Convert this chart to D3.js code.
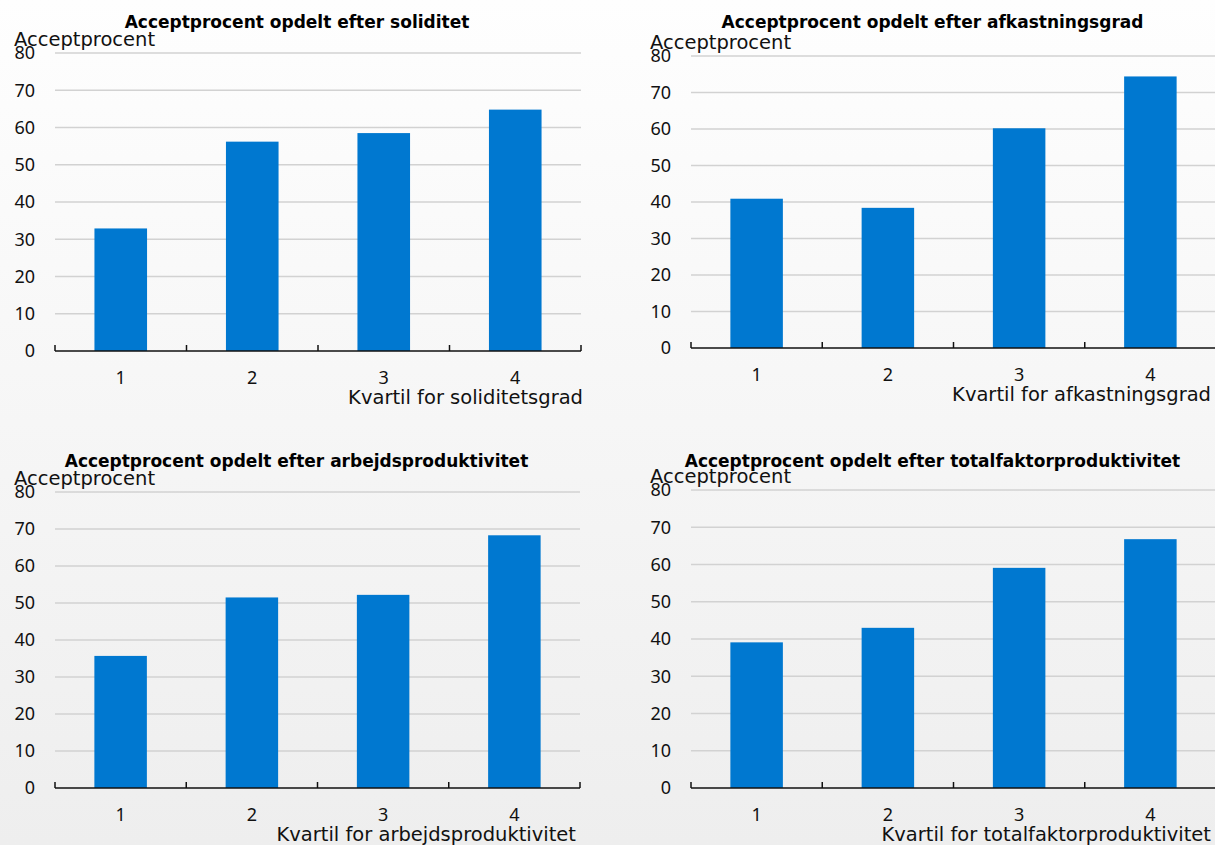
<!DOCTYPE html>
<html>
<head>
<meta charset="utf-8">
<script src="https://cdn.jsdelivr.net/npm/d3@7"></script>
<style>
  html, body { margin: 0; padding: 0; }
  body { width: 1215px; height: 845px; overflow: hidden; }
  svg { display: block; }
</style>
</head>
<body>
<svg id="chart" width="1215" height="845"></svg>
<script>
// Acceptance rate (%) by quartile, four breakdowns
const categories = ["1", "2", "3", "4"];
const yTicks = [0, 10, 20, 30, 40, 50, 60, 70, 80];

const titles = [
  "Acceptprocent opdelt efter soliditet",
  "Acceptprocent opdelt efter afkastningsgrad",
  "Acceptprocent opdelt efter arbejdsproduktivitet",
  "Acceptprocent opdelt efter totalfaktorproduktivitet"
];
const xTitles = [
  "Kvartil for soliditetsgrad",
  "Kvartil for afkastningsgrad",
  "Kvartil for arbejdsproduktivitet",
  "Kvartil for totalfaktorproduktivitet"
];
const yTitle = "Acceptprocent";

const soliditet = [32.9, 56.2, 58.5, 64.8];
const afkastningsgrad = [40.9, 38.4, 60.2, 74.4];
const arbejdsproduktivitet = [35.7, 51.5, 52.2, 68.3];
const totalfaktorproduktivitet = [39.1, 43.0, 59.1, 66.8];
const seriesValues = [soliditet, afkastningsgrad, arbejdsproduktivitet, totalfaktorproduktivitet];

// Panel frames (plot area in page pixels)
const frames = [
  { left: 55,  right: 581,  top: 53,  bottom: 351, titleY: 28,  xTitleRight: 583 },
  { left: 691, right: 1216, top: 56,  bottom: 348, titleY: 28,  xTitleRight: 1211 },
  { left: 55,  right: 580,  top: 492, bottom: 788, titleY: 467, xTitleRight: 576 },
  { left: 691, right: 1216, top: 490, bottom: 788, titleY: 467, xTitleRight: 1211 }
];

const NUM_FONT = "'Noto Sans', 'Open Sans', sans-serif";
const TEXT_FONT = "'DejaVu Sans', 'Noto Sans', sans-serif";
const BAR = "#0078d0";

const svg = d3.select("#chart");

// soft vertical backdrop
const defs = svg.append("defs");
const grad = defs.append("linearGradient")
  .attr("id", "bg").attr("x1", 0).attr("y1", 0).attr("x2", 0).attr("y2", 1);
grad.append("stop").attr("offset", "0%").attr("stop-color", "#fefefe");
grad.append("stop").attr("offset", "100%").attr("stop-color", "#eeeeee");
svg.append("rect").attr("width", 1215).attr("height", 845).attr("fill", "url(#bg)");

frames.forEach((f, i) => {
  const values = seriesValues[i];
  const g = svg.append("g");

  const x = d3.scaleBand()
    .domain(categories)
    .range([f.left, f.right])
    .paddingInner(0.6)
    .paddingOuter(0.3);

  const y = d3.scaleLinear()
    .domain([0, 80])
    .range([f.bottom, f.top]);

  // horizontal gridlines
  g.append("g")
    .selectAll("line")
    .data(yTicks.filter(t => t > 0))
    .join("line")
    .attr("x1", f.left).attr("x2", f.right)
    .attr("y1", d => y(d)).attr("y2", d => y(d))
    .attr("stroke", "#d2d2d2")
    .attr("stroke-width", 1.5);

  // y axis labels
  const yAxis = d3.axisLeft(y).tickValues(yTicks).tickSize(0).tickPadding(20);
  const ya = g.append("g")
    .attr("transform", `translate(${f.left},0)`)
    .call(yAxis);
  ya.select(".domain").remove();
  ya.selectAll("text")
    .attr("font-family", NUM_FONT)
    .attr("font-size", 18)
    .attr("fill", "#111");

  // bars
  g.append("g")
    .selectAll("rect")
    .data(values)
    .join("rect")
    .attr("x", (d, j) => x(categories[j]))
    .attr("width", x.bandwidth())
    .attr("y", d => y(d))
    .attr("height", d => y(0) - y(d))
    .attr("fill", BAR);

  // x axis line with boundary ticks
  const step = x.step();
  const edges = d3.range(categories.length + 1).map(k => f.left + k * step);
  g.append("line")
    .attr("x1", f.left).attr("x2", f.right)
    .attr("y1", y(0)).attr("y2", y(0))
    .attr("stroke", "#111").attr("stroke-width", 1.6);
  g.append("g")
    .selectAll("line")
    .data(edges)
    .join("line")
    .attr("x1", d => d).attr("x2", d => d)
    .attr("y1", y(0)).attr("y2", y(0) - 6)
    .attr("stroke", "#111").attr("stroke-width", 1.5);

  // x category labels
  g.append("g")
    .selectAll("text")
    .data(categories)
    .join("text")
    .attr("x", d => x(d) + x.bandwidth() / 2)
    .attr("y", y(0) + 33)
    .attr("text-anchor", "middle")
    .attr("font-family", NUM_FONT)
    .attr("font-size", 18)
    .attr("fill", "#111")
    .text(d => d);

  // x axis title
  g.append("text")
    .attr("x", f.xTitleRight)
    .attr("y", y(0) + 53)
    .attr("text-anchor", "end")
    .attr("font-family", TEXT_FONT)
    .attr("font-size", 19.5)
    .attr("fill", "#111")
    .text(xTitles[i]);

  // y axis title
  g.append("text")
    .attr("x", f.left - 41)
    .attr("y", f.top - 7)
    .attr("font-family", TEXT_FONT)
    .attr("font-size", 19.5)
    .attr("fill", "#111")
    .text(yTitle);

  // panel title
  g.append("text")
    .attr("x", (f.left + f.right) / 2 - 21)
    .attr("y", f.titleY)
    .attr("text-anchor", "middle")
    .attr("font-family", TEXT_FONT)
    .attr("font-size", 17)
    .attr("font-weight", "bold")
    .attr("fill", "#000")
    .text(titles[i]);
});
</script>
</body>
</html>
